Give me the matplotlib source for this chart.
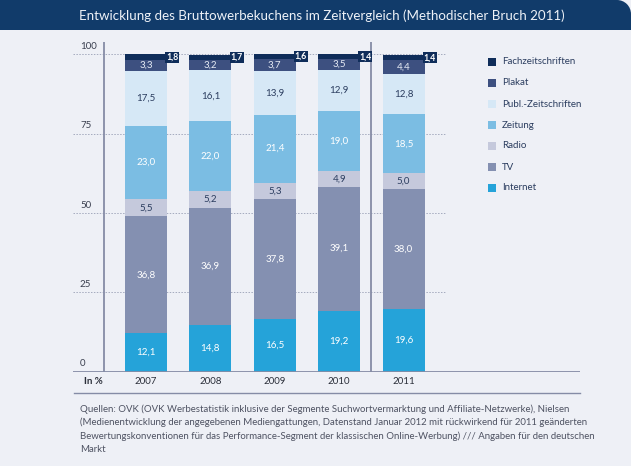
import matplotlib
matplotlib.use("Agg")
import matplotlib.pyplot as plt
from matplotlib.patches import Rectangle, Ellipse
from matplotlib.lines import Line2D

plt.rcParams['font.family'] = ['Lato', 'DejaVu Sans']

# ---------------- data ----------------
years = ['2007', '2008', '2009', '2010', '2011']
internet = [12.1, 14.8, 16.5, 19.2, 19.6]
tv = [36.8, 36.9, 37.8, 39.1, 38.0]
radio = [5.5, 5.2, 5.3, 4.9, 5.0]
zeitung = [23.0, 22.0, 21.4, 19.0, 18.5]
publ = [17.5, 16.1, 13.9, 12.9, 12.8]
plakat = [3.3, 3.2, 3.7, 3.5, 4.4]
fach = [1.8, 1.7, 1.6, 1.4, 1.4]
series_names = ['Internet', 'TV', 'Radio', 'Zeitung', 'Publ.-Zeitschriften', 'Plakat', 'Fachzeitschriften']
yticks = [0, 25, 50, 75, 100]

title = 'Entwicklung des Bruttowerbekuchens im Zeitvergleich (Methodischer Bruch 2011)'
footer = ['Quellen: OVK (OVK Werbestatistik inklusive der Segmente Suchwortvermarktung und Affiliate-Netzwerke), Nielsen',
          '(Medienentwicklung der angegebenen Mediengattungen, Datenstand Januar 2012 mit rückwirkend für 2011 geänderten',
          'Bewertungskonventionen für das Performance-Segment der klassischen Online-Werbung) /// Angaben für den deutschen',
          'Markt']

# ---------------- style ----------------
colors = ['#25a3d9', '#8490b1', '#c5c9dc', '#7bbde3', '#d6e8f6', '#3d5080', '#0f2d5a']
label_colors = ['white', 'white', '#2b3d5f', 'white', '#2b3d5f', '#e6ebf5', 'white']
BG = '#eef0f6'
NAVY = '#113b6a'
GRID = '#a4aabe'
AXC = '#858ca6'

W, H = 631, 466
fig = plt.figure(figsize=(W / 100, H / 100), dpi=100)
fig.patch.set_facecolor(BG)

def fx(px):
    return px / W

def fy(py):
    return 1 - py / H

# title banner with rounded top-right corner
R = 14
fig.patches.append(Rectangle((0, fy(30)), fx(W - R), 30 / H, transform=fig.transFigure,
                             facecolor=NAVY, edgecolor='none', zorder=0))
fig.patches.append(Rectangle((fx(W - R), fy(30)), fx(R), (30 - R) / H, transform=fig.transFigure,
                             facecolor=NAVY, edgecolor='none', zorder=0))
fig.patches.append(Ellipse((fx(W - R), fy(R)), 2 * R / W, 2 * R / H, transform=fig.transFigure,
                           facecolor=NAVY, edgecolor='none', zorder=0))
fig.text(fx(322), fy(16), title, color='#eef2f8', fontsize=9.6, ha='center', va='center')

# axes: y=0 at px 371.5, y=100 at px 54.5 ; x=0 at px 146, 64.4 px per unit
y0px, y100px = 371.5, 54.5
ppu = (y0px - y100px) / 100
top_px = 42
ax_left_px, ax_right_px = 73, 580
xc0, xppu = 146, 64.4
ax = fig.add_axes([fx(ax_left_px), fy(y0px), fx(ax_right_px - ax_left_px), (y0px - top_px) / H])
ax.set_facecolor('none')
ax.set_xlim((ax_left_px - xc0) / xppu, (ax_right_px - xc0) / xppu)
ax.set_ylim(0, (y0px - top_px) / ppu)
for s in ax.spines.values():
    s.set_visible(False)
ax.set_xticks([])
ax.set_yticks([])

x = list(range(len(years)))
bw = 42 / xppu

# gridlines
grid_right = (445 - xc0) / xppu
for v in yticks[1:]:
    ax.plot([ax.get_xlim()[0], grid_right], [v, v], color=GRID, lw=0.7,
            ls=(0, (1.5, 1.5)), zorder=1)

# y tick labels
for v in yticks:
    ax.annotate(str(v), (ax.get_xlim()[0] + 7 / xppu, v), xytext=(0, 2.5),
                textcoords='offset points', ha='left', va='bottom',
                fontsize=7, color='#3a3f4f', annotation_clip=False)

# axis lines
ax.axhline(0, color=AXC, lw=1.3, zorder=3)
yaxis_x = (104 - xc0) / xppu
ax.plot([yaxis_x, yaxis_x], [0, ax.get_ylim()[1]], color=AXC, lw=1.3, zorder=3,
        solid_capstyle='butt')
sep_x = (371 - xc0) / xppu
ax.plot([sep_x, sep_x], [0, ax.get_ylim()[1]], color=AXC, lw=1.3, zorder=3,
        solid_capstyle='butt')

# stacked bars
stack = [internet, tv, radio, zeitung, publ, plakat, fach]
bottom = [0.0] * len(years)
for si, vals in enumerate(stack):
    ax.bar(x, vals, width=bw, bottom=bottom, color=colors[si], edgecolor='none',
           zorder=2)
    for i, v in enumerate(vals):
        lbl = f'{v:.1f}'.replace('.', ',')
        yc = bottom[i] + v / 2
        if si == len(stack) - 1:
            ax.text(x[i] + bw / 2 - 1 / xppu, yc, lbl, ha='left', va='center',
                    fontsize=6.3, fontweight='bold', color='white', zorder=5,
                    bbox=dict(boxstyle='square,pad=0.1', fc=colors[si], ec='none'))
        else:
            ax.text(x[i], yc, lbl, ha='center', va='center', fontsize=7,
                    color=label_colors[si], zorder=4)
    bottom = [b + v for b, v in zip(bottom, vals)]

# x labels
for i, yr in enumerate(years):
    ax.text(x[i], -(382 - y0px) / ppu, yr, ha='center', va='center', fontsize=7,
            color='#2b2f3a', clip_on=False)
fig.text(fx(84), fy(382), 'In %', ha='left', va='center', fontsize=7,
         fontweight='bold', color='#2b2f3a')

# line under x labels
fig.add_artist(Line2D([fx(74), fx(580)], [fy(393), fy(393)], color=AXC, lw=1.0))

# legend (manual)
leg_y0, leg_dy = 62, 21
for k, name in enumerate(reversed(series_names)):
    ci = len(series_names) - 1 - k
    cy = leg_y0 + k * leg_dy
    fig.patches.append(Rectangle((fx(488), fy(cy + 4)), fx(8), 8 / H,
                                 transform=fig.transFigure, facecolor=colors[ci],
                                 edgecolor='none'))
    fig.text(fx(502), fy(cy), name, ha='left', va='center', fontsize=7,
             color='#2b3d5f')

# footer
for j, line in enumerate(footer):
    fig.text(fx(80), fy(409 + j * 13.5), line, ha='left', va='center', fontsize=6.9,
             color='#4e5262')

fig.savefig('out.png', dpi=100, facecolor=fig.get_facecolor())
